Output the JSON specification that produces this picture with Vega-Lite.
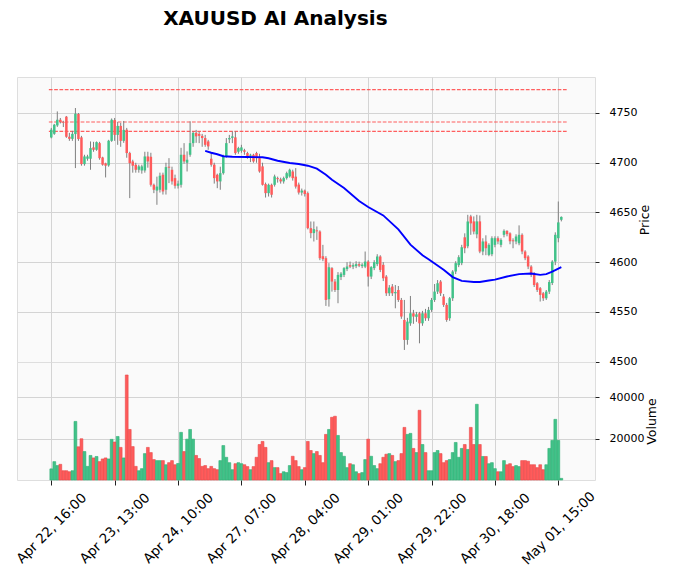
{
  "$schema": "https://vega.github.io/schema/vega-lite/v6.json",
  "background": "white",
  "padding": {"left": 13, "top": 8, "right": 0, "bottom": 0},
  "bounds": "flush",
  "title": {"text": "XAUUSD AI Analysis", "font": "DejaVu Sans", "fontSize": 20, "fontWeight": "bold", "color": "black", "anchor": "start", "dx": 150, "offset": 48},
  "spacing": 0,
  "config": {
    "font": "DejaVu Sans",
    "view": {"stroke": "#dedede", "fill": "#fafafa"},
    "axis": {"labelFont": "DejaVu Sans", "titleFont": "DejaVu Sans", "labelFontSize": 11, "titleFontSize": 12.5, "titleFontWeight": "normal", "labelColor": "black", "titleColor": "black", "gridColor": "#d4d4d4", "gridWidth": 1, "tickColor": "#222", "domain": false}
  },
  "datasets": {
    "levels": [{"p": 4773.5}, {"p": 4741}, {"p": 4731.5}],
    "ma": [{"i":51,"ma":4712},{"i":53,"ma":4710},{"i":55,"ma":4708.5},{"i":57,"ma":4706.5},{"i":60,"ma":4706},{"i":65,"ma":4705.8},{"i":70,"ma":4705.5},{"i":72,"ma":4704.5},{"i":75,"ma":4702},{"i":79,"ma":4699.7},{"i":82,"ma":4698.7},{"i":85,"ma":4697},{"i":88,"ma":4694},{"i":91,"ma":4688},{"i":93,"ma":4682.9},{"i":97,"ma":4674.5},{"i":102,"ma":4661.5},{"i":105,"ma":4655.5},{"i":110,"ma":4647},{"i":115,"ma":4633},{"i":119,"ma":4617.6},{"i":123,"ma":4607},{"i":125,"ma":4603},{"i":130,"ma":4592.3},{"i":133,"ma":4585},{"i":136,"ma":4581.2},{"i":140,"ma":4580},{"i":142,"ma":4580},{"i":145,"ma":4581.5},{"i":147,"ma":4582.5},{"i":151,"ma":4585.6},{"i":155,"ma":4588},{"i":159,"ma":4588.6},{"i":162,"ma":4587.2},{"i":164,"ma":4588},{"i":166,"ma":4590.5},{"i":169,"ma":4595}],
    "candles": [
      {"i":0,"o":4725.4,"h":4735,"l":4724.5,"c":4733.2,"v":5400},
      {"i":1,"o":4729.1,"h":4739,"l":4728,"c":4738.2,"v":8900},
      {"i":2,"o":4737.5,"h":4751.6,"l":4736,"c":4743.2,"v":7000},
      {"i":3,"o":4743.2,"h":4745,"l":4739.5,"c":4740.9,"v":7600},
      {"i":4,"o":4741,"h":4742.2,"l":4735.9,"c":4740.3,"v":4500},
      {"i":5,"o":4746.3,"h":4747,"l":4725,"c":4726.1,"v":4500},
      {"i":6,"o":4726.1,"h":4730,"l":4722,"c":4724,"v":4000},
      {"i":7,"o":4724,"h":4732,"l":4722,"c":4729,"v":4500},
      {"i":8,"o":4728.8,"h":4755,"l":4694.6,"c":4749.3,"v":28400},
      {"i":9,"o":4749,"h":4750,"l":4722,"c":4723.8,"v":16100},
      {"i":10,"o":4725.5,"h":4727,"l":4697,"c":4698.6,"v":20000},
      {"i":11,"o":4698.6,"h":4708,"l":4697,"c":4706.3,"v":13800},
      {"i":12,"o":4704,"h":4708,"l":4702,"c":4706.3,"v":6600},
      {"i":13,"o":4704,"h":4721.4,"l":4692.9,"c":4714.7,"v":11900},
      {"i":14,"o":4715.4,"h":4721,"l":4711,"c":4713,"v":10700},
      {"i":15,"o":4713,"h":4721.4,"l":4712,"c":4720.7,"v":11400},
      {"i":16,"o":4719.7,"h":4721,"l":4703,"c":4704.6,"v":8900},
      {"i":17,"o":4705.3,"h":4706,"l":4697,"c":4698,"v":10200},
      {"i":18,"o":4699.3,"h":4700,"l":4685.2,"c":4697,"v":10700},
      {"i":19,"o":4697.3,"h":4723,"l":4696,"c":4722.1,"v":10200},
      {"i":20,"o":4722,"h":4744.5,"l":4721,"c":4743.2,"v":19700},
      {"i":21,"o":4743,"h":4745,"l":4722,"c":4728,"v":18400},
      {"i":22,"o":4728,"h":4741,"l":4718,"c":4737,"v":21100},
      {"i":23,"o":4737,"h":4740,"l":4716,"c":4722,"v":15800},
      {"i":24,"o":4722,"h":4742,"l":4720,"c":4733,"v":10700},
      {"i":25,"o":4733.2,"h":4735,"l":4705,"c":4709.7,"v":50900},
      {"i":26,"o":4709.7,"h":4711,"l":4664.4,"c":4699.6,"v":24500},
      {"i":27,"o":4701.3,"h":4703,"l":4690,"c":4697,"v":16200},
      {"i":28,"o":4697.9,"h":4700,"l":4690,"c":4692.9,"v":6600},
      {"i":29,"o":4692.9,"h":4698,"l":4690,"c":4696.3,"v":4500},
      {"i":30,"o":4692.2,"h":4698,"l":4689,"c":4696.3,"v":5500},
      {"i":31,"o":4692.2,"h":4711,"l":4690,"c":4706.3,"v":12800},
      {"i":32,"o":4706.3,"h":4711,"l":4695,"c":4701.3,"v":15800},
      {"i":33,"o":4706,"h":4710,"l":4676,"c":4677.8,"v":13300},
      {"i":34,"o":4677.8,"h":4679,"l":4669.4,"c":4672.8,"v":9900},
      {"i":35,"o":4672,"h":4686,"l":4657.7,"c":4676,"v":9400},
      {"i":36,"o":4672.8,"h":4690,"l":4670,"c":4686.9,"v":9400},
      {"i":37,"o":4687.9,"h":4690,"l":4668,"c":4671.1,"v":9400},
      {"i":38,"o":4672.8,"h":4700,"l":4668,"c":4695.6,"v":7400},
      {"i":39,"o":4696,"h":4704.6,"l":4679.5,"c":4695,"v":8400},
      {"i":40,"o":4692.9,"h":4696,"l":4678,"c":4681.2,"v":9400},
      {"i":41,"o":4684.5,"h":4688,"l":4674,"c":4676.8,"v":7400},
      {"i":42,"o":4676.8,"h":4682,"l":4674,"c":4679,"v":8000},
      {"i":43,"o":4677.8,"h":4715,"l":4675,"c":4708,"v":23100},
      {"i":44,"o":4708,"h":4719.7,"l":4699,"c":4701.3,"v":13800},
      {"i":45,"o":4700,"h":4711.4,"l":4691.2,"c":4703,"v":19800},
      {"i":46,"o":4708,"h":4741.6,"l":4706,"c":4719.7,"v":24500},
      {"i":47,"o":4719.7,"h":4731.5,"l":4716,"c":4730,"v":19800},
      {"i":48,"o":4730,"h":4733,"l":4720,"c":4726.5,"v":11900},
      {"i":49,"o":4729,"h":4731,"l":4719.7,"c":4727,"v":10400},
      {"i":50,"o":4727,"h":4729,"l":4716,"c":4724.8,"v":6600},
      {"i":51,"o":4724.8,"h":4728,"l":4716,"c":4718,"v":7000},
      {"i":52,"o":4721.4,"h":4723,"l":4713,"c":4716.4,"v":5500},
      {"i":53,"o":4704,"h":4710,"l":4696,"c":4698,"v":6600},
      {"i":54,"o":4698,"h":4700,"l":4679,"c":4684.5,"v":5500},
      {"i":55,"o":4687.9,"h":4689,"l":4674.4,"c":4681.2,"v":5000},
      {"i":56,"o":4681.2,"h":4696,"l":4672.8,"c":4689.5,"v":9400},
      {"i":57,"o":4689.5,"h":4708,"l":4688,"c":4706.3,"v":16700},
      {"i":58,"o":4706.3,"h":4724.8,"l":4705,"c":4719.7,"v":11000},
      {"i":59,"o":4723.5,"h":4728,"l":4719.7,"c":4724.8,"v":8400},
      {"i":60,"o":4725,"h":4731.5,"l":4719.7,"c":4726.5,"v":5000},
      {"i":61,"o":4725.5,"h":4731.5,"l":4708,"c":4709.7,"v":7900},
      {"i":62,"o":4711,"h":4716,"l":4709,"c":4714.7,"v":8400},
      {"i":63,"o":4712,"h":4718,"l":4710,"c":4715.4,"v":7900},
      {"i":64,"o":4712.5,"h":4714,"l":4708,"c":4711,"v":7400},
      {"i":65,"o":4709.7,"h":4711,"l":4704,"c":4705.6,"v":6500},
      {"i":66,"o":4707,"h":4709,"l":4700.6,"c":4708,"v":5000},
      {"i":67,"o":4708,"h":4709,"l":4700,"c":4701.3,"v":6500},
      {"i":68,"o":4709.7,"h":4711,"l":4700,"c":4704.6,"v":11000},
      {"i":69,"o":4704.6,"h":4709,"l":4690,"c":4691.2,"v":17200},
      {"i":70,"o":4696.3,"h":4700,"l":4677,"c":4677.8,"v":18700},
      {"i":71,"o":4678.5,"h":4680,"l":4665,"c":4669.4,"v":15800},
      {"i":72,"o":4669.4,"h":4679,"l":4666,"c":4677.8,"v":8400},
      {"i":73,"o":4677.8,"h":4679,"l":4665,"c":4667.8,"v":9400},
      {"i":74,"o":4677.8,"h":4688,"l":4676,"c":4686.2,"v":6000},
      {"i":75,"o":4684.5,"h":4686,"l":4680,"c":4683.5,"v":6000},
      {"i":76,"o":4683.3,"h":4685,"l":4679,"c":4681.2,"v":3100},
      {"i":77,"o":4681.2,"h":4686,"l":4679,"c":4684.5,"v":4000},
      {"i":78,"o":4684.5,"h":4691,"l":4683,"c":4689.5,"v":3600},
      {"i":79,"o":4686.2,"h":4694,"l":4685,"c":4692.9,"v":7000},
      {"i":80,"o":4691.2,"h":4693,"l":4682,"c":4684.5,"v":11500},
      {"i":81,"o":4686,"h":4694.6,"l":4674,"c":4676,"v":9400},
      {"i":82,"o":4678,"h":4680,"l":4668,"c":4670,"v":6500},
      {"i":83,"o":4670,"h":4674,"l":4667,"c":4672,"v":5000},
      {"i":84,"o":4672,"h":4673,"l":4666,"c":4668.5,"v":6000},
      {"i":85,"o":4669.4,"h":4671,"l":4633,"c":4634.2,"v":18700},
      {"i":86,"o":4634.2,"h":4640.9,"l":4624.1,"c":4629.2,"v":14300},
      {"i":87,"o":4629.2,"h":4640.9,"l":4620.8,"c":4633.2,"v":12800},
      {"i":88,"o":4632,"h":4635.9,"l":4622.4,"c":4631,"v":13800},
      {"i":89,"o":4630.8,"h":4632,"l":4602,"c":4604,"v":11900},
      {"i":90,"o":4606,"h":4617.4,"l":4601,"c":4603,"v":8400},
      {"i":91,"o":4604,"h":4606,"l":4556,"c":4562,"v":22100},
      {"i":92,"o":4562.7,"h":4599,"l":4555.3,"c":4594.9,"v":24500},
      {"i":93,"o":4594,"h":4595,"l":4570.4,"c":4580.5,"v":30400},
      {"i":94,"o":4580.5,"h":4583,"l":4570,"c":4572,"v":30900},
      {"i":95,"o":4572,"h":4590,"l":4558.7,"c":4587.2,"v":21600},
      {"i":96,"o":4585,"h":4590,"l":4582,"c":4588.5,"v":13300},
      {"i":97,"o":4587.2,"h":4595,"l":4585,"c":4594,"v":11500},
      {"i":98,"o":4593,"h":4600,"l":4591,"c":4595.6,"v":6000},
      {"i":99,"o":4597,"h":4600.6,"l":4594,"c":4595.5,"v":7900},
      {"i":100,"o":4595.5,"h":4599,"l":4593,"c":4597,"v":7400},
      {"i":101,"o":4596,"h":4601,"l":4594,"c":4598,"v":4000},
      {"i":102,"o":4598,"h":4600.5,"l":4595,"c":4596.5,"v":3100},
      {"i":103,"o":4596,"h":4599,"l":4594,"c":4597.5,"v":3600},
      {"i":104,"o":4595.5,"h":4610.7,"l":4594,"c":4600.6,"v":9900},
      {"i":105,"o":4600.6,"h":4602,"l":4575.5,"c":4585.5,"v":19800},
      {"i":106,"o":4585.5,"h":4596,"l":4583,"c":4595,"v":11500},
      {"i":107,"o":4594,"h":4602,"l":4592,"c":4600,"v":7000},
      {"i":108,"o":4598,"h":4608,"l":4596,"c":4605.7,"v":5500},
      {"i":109,"o":4605.7,"h":4607,"l":4590,"c":4592.2,"v":7900},
      {"i":110,"o":4597.3,"h":4600,"l":4581,"c":4583.8,"v":11000},
      {"i":111,"o":4585.5,"h":4587,"l":4566,"c":4568.7,"v":12500},
      {"i":112,"o":4568.7,"h":4577,"l":4566,"c":4574.4,"v":12800},
      {"i":113,"o":4575.5,"h":4578,"l":4566,"c":4568.7,"v":11900},
      {"i":114,"o":4568.7,"h":4577,"l":4553.6,"c":4570,"v":8900},
      {"i":115,"o":4572,"h":4576,"l":4560,"c":4562,"v":9400},
      {"i":116,"o":4562,"h":4564,"l":4543,"c":4545.3,"v":12800},
      {"i":117,"o":4541.9,"h":4562,"l":4511.7,"c":4521.8,"v":25500},
      {"i":118,"o":4521.8,"h":4544,"l":4517,"c":4540.2,"v":22100},
      {"i":119,"o":4538.5,"h":4566,"l":4536,"c":4548.6,"v":22600},
      {"i":120,"o":4548.6,"h":4552,"l":4538,"c":4545.3,"v":15300},
      {"i":121,"o":4545,"h":4550,"l":4540,"c":4547.5,"v":13300},
      {"i":122,"o":4548.6,"h":4550,"l":4518.4,"c":4538.5,"v":33800},
      {"i":123,"o":4538.5,"h":4551,"l":4536,"c":4548.6,"v":17200},
      {"i":124,"o":4548.6,"h":4553,"l":4541,"c":4543.6,"v":13300},
      {"i":125,"o":4543.6,"h":4555,"l":4541,"c":4552,"v":4500},
      {"i":126,"o":4552,"h":4564,"l":4550,"c":4562,"v":4500},
      {"i":127,"o":4562,"h":4578,"l":4560,"c":4570.4,"v":13300},
      {"i":128,"o":4570.4,"h":4582,"l":4568,"c":4578.8,"v":14300},
      {"i":129,"o":4580.5,"h":4582,"l":4566,"c":4568.7,"v":12800},
      {"i":130,"o":4565.4,"h":4568,"l":4555,"c":4557,"v":8400},
      {"i":131,"o":4557,"h":4559,"l":4540,"c":4541.9,"v":9400},
      {"i":132,"o":4543.6,"h":4565,"l":4541,"c":4563.7,"v":9900},
      {"i":133,"o":4563.7,"h":4592,"l":4561,"c":4590.6,"v":13300},
      {"i":134,"o":4590.6,"h":4601,"l":4588,"c":4599,"v":18200},
      {"i":135,"o":4597,"h":4607,"l":4595,"c":4605,"v":11000},
      {"i":136,"o":4599,"h":4617.4,"l":4597,"c":4615,"v":15300},
      {"i":137,"o":4625,"h":4629,"l":4609,"c":4614,"v":17200},
      {"i":138,"o":4616,"h":4647.6,"l":4614,"c":4640.9,"v":14800},
      {"i":139,"o":4646,"h":4647.6,"l":4627.5,"c":4639,"v":25500},
      {"i":140,"o":4641,"h":4646,"l":4628,"c":4630.8,"v":17200},
      {"i":141,"o":4628,"h":4647.6,"l":4624,"c":4641,"v":36700},
      {"i":142,"o":4641,"h":4647,"l":4609,"c":4610.7,"v":17200},
      {"i":143,"o":4610.7,"h":4624,"l":4607,"c":4620.8,"v":11400},
      {"i":144,"o":4620.8,"h":4627,"l":4607,"c":4614,"v":11400},
      {"i":145,"o":4607.3,"h":4619,"l":4606,"c":4617.4,"v":7900},
      {"i":146,"o":4608,"h":4626,"l":4606,"c":4624.1,"v":8400},
      {"i":147,"o":4617.4,"h":4626,"l":4615,"c":4624.1,"v":5500},
      {"i":148,"o":4624.1,"h":4626,"l":4618,"c":4620.8,"v":4000},
      {"i":149,"o":4617.4,"h":4624,"l":4615,"c":4622.4,"v":4000},
      {"i":150,"o":4627.5,"h":4633,"l":4625,"c":4631.5,"v":9400},
      {"i":151,"o":4631.5,"h":4632,"l":4626,"c":4628.2,"v":7400},
      {"i":152,"o":4629,"h":4630,"l":4618,"c":4621,"v":7900},
      {"i":153,"o":4622,"h":4624,"l":4614,"c":4621,"v":6500},
      {"i":154,"o":4620.8,"h":4628,"l":4618,"c":4625.8,"v":7000},
      {"i":155,"o":4619,"h":4637,"l":4617,"c":4627.5,"v":6500},
      {"i":156,"o":4627.5,"h":4629,"l":4608,"c":4610.7,"v":9400},
      {"i":157,"o":4610.7,"h":4612,"l":4602,"c":4604,"v":9400},
      {"i":158,"o":4605.7,"h":4607,"l":4593,"c":4595.6,"v":9100},
      {"i":159,"o":4595.6,"h":4597,"l":4585,"c":4587.2,"v":7400},
      {"i":160,"o":4588.9,"h":4590,"l":4575,"c":4577,"v":7400},
      {"i":161,"o":4578.8,"h":4580,"l":4570,"c":4572.1,"v":6000},
      {"i":162,"o":4573.8,"h":4575,"l":4560.4,"c":4567.1,"v":7400},
      {"i":163,"o":4568.7,"h":4570,"l":4561,"c":4563.7,"v":5000},
      {"i":164,"o":4563.7,"h":4572,"l":4562,"c":4570.4,"v":7400},
      {"i":165,"o":4570.4,"h":4582,"l":4568,"c":4580,"v":15300},
      {"i":166,"o":4579,"h":4602,"l":4577,"c":4600.6,"v":19200},
      {"i":167,"o":4600.6,"h":4630,"l":4597,"c":4627.5,"v":29400},
      {"i":168,"o":4624.1,"h":4661,"l":4620,"c":4640,"v":19200},
      {"i":169,"o":4642.6,"h":4646,"l":4641,"c":4645.5,"v":800}
    ]
  },
  "vconcat": [
    {
      "width": 578,
      "height": 285,
      "layer": [
        {
          "data": {"name": "levels"},
          "mark": {"type": "rule", "color": "#ff4d4d", "opacity": 0.9, "strokeWidth": 1.1, "strokeDash": [3.7, 1.6]},
          "encoding": {
            "x": {"datum": -0.8, "type": "quantitative", "scale": {"domain": [-9.7, 178.5], "nice": false, "zero": false},
                  "axis": {"values": [0, 21, 42, 63, 84, 105, 126, 147, 168], "labels": false, "ticks": false, "title": null, "grid": true, "labelPadding": 0, "tickSize": 0, "minExtent": 0, "maxExtent": 0, "offset": 0}},
            "x2": {"datum": 171},
            "y": {"field": "p", "type": "quantitative", "scale": {"domain": [4499.6, 4786.2], "nice": false, "zero": false},
                  "axis": {"orient": "right", "values": [4500, 4550, 4600, 4650, 4700, 4750], "format": "d", "title": "Price", "titleAngle": 270, "titleBaseline": "top", "tickSize": 4, "labelPadding": 10, "titlePadding": 2, "grid": true}}
          }
        },
        {
          "data": {"name": "candles"},
          "mark": {"type": "rule", "color": "#7f7f7f", "strokeWidth": 1},
          "encoding": {
            "x": {"field": "i", "type": "quantitative"},
            "y": {"field": "l", "type": "quantitative"},
            "y2": {"field": "h"}
          }
        },
        {
          "data": {"name": "candles"},
          "mark": {"type": "bar", "size": 2.5},
          "encoding": {
            "x": {"field": "i", "type": "quantitative"},
            "y": {"field": "o", "type": "quantitative"},
            "y2": {"field": "c"},
            "color": {"condition": {"test": "datum.c >= datum.o", "value": "#41c289"}, "value": "#ff5b5b"}
          }
        },
        {
          "data": {"name": "ma"},
          "mark": {"type": "line", "color": "#0000ff", "strokeWidth": 1.9},
          "encoding": {
            "x": {"field": "i", "type": "quantitative"},
            "y": {"field": "ma", "type": "quantitative"}
          }
        }
      ]
    },
    {
      "width": 578,
      "height": 118,
      "data": {"name": "candles"},
      "mark": {"type": "bar", "size": 2.8, "strokeWidth": 0.6},
      "encoding": {
        "x": {"field": "i", "type": "quantitative", "scale": {"domain": [-9.7, 178.5], "nice": false, "zero": false},
              "axis": {"values": [0, 21, 42, 63, 84, 105, 126, 147, 168], "title": null, "grid": true, "ticks": true, "tickSize": 5, "labelAngle": -45, "labelAlign": "center", "labelBaseline": "middle", "labelPadding": 43, "labelFontSize": 13.5, "labelOverlap": false, "labelBound": false, "labelFlush": false,
                       "labelExpr": "['Apr 22, 16:00','Apr 23, 13:00','Apr 24, 10:00','Apr 27, 07:00','Apr 28, 04:00','Apr 29, 01:00','Apr 29, 22:00','Apr 30, 18:00','May 01, 15:00'][round(datum.value/21)]"}},
        "y": {"field": "v", "type": "quantitative", "scale": {"domain": [0, 57200], "nice": false},
              "axis": {"orient": "right", "values": [20000, 40000], "format": "d", "title": "Volume", "titleAngle": 270, "titleBaseline": "top", "tickSize": 4, "labelPadding": 10, "titlePadding": 2, "grid": true}},
        "color": {"condition": {"test": "datum.c >= datum.o", "value": "#41c289"}, "value": "#ff5b5b"},
        "stroke": {"condition": {"test": "datum.c >= datum.o", "value": "#2fae74"}, "value": "#e84848"}
      }
    }
  ]
}
